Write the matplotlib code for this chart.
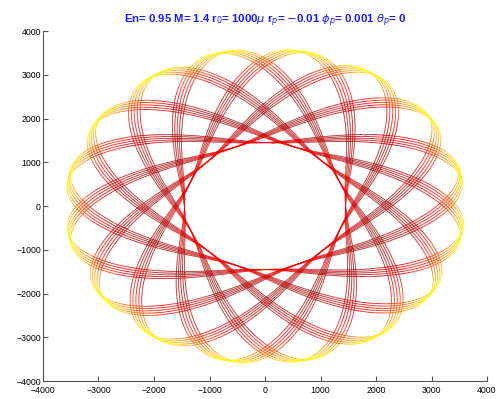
import numpy as np
import matplotlib
matplotlib.use('Agg')
import matplotlib.pyplot as plt
from matplotlib.collections import LineCollection

# orbit
r_apo = 3600.0          # outer lobes
r_peri = 1450.0         # inner hole
n_lobes = 16
n_strands = 5
strand_gap_deg = 1.4    # spacing of strands inside one lobe
first_lobe_deg = 11.25  # a lobe sits at ~ +11 deg
shape_q = 1.4           # radial profile, 1 = kepler-like, 2 = ellipse-like
ticks = [-4000, -3000, -2000, -1000, 0, 1000, 2000, 3000, 4000]
title = r'En= 0.95 M= 1.4 r$_0$= 1000$\mu$ r$_p$= $-$0.01 $\phi_p$= 0.001 $\theta_p$= 0'

# apo to apo step: 180 - 360/n_lobes degrees plus a small drift
step_deg = 180.0 - 360.0 / n_lobes + strand_gap_deg / n_lobes
n_apo = n_lobes * n_strands
kappa = 360.0 / step_deg
th0 = np.radians(first_lobe_deg - (n_strands - 1) / 2 * strand_gap_deg)
th = np.linspace(0, np.radians(n_apo * step_deg), n_apo * 600)
X = kappa * th
A = 0.5 * (r_peri ** -shape_q + r_apo ** -shape_q)
B = 0.5 * (r_peri ** -shape_q - r_apo ** -shape_q)
r = (A - B * np.cos(X)) ** (-1.0 / shape_q)
x = r * np.cos(th + th0)
y = r * np.sin(th + th0)

# colour: yellow at the tips, red near the inner ring, dark red in between
c = np.abs(np.cos(X / 2))
s = np.abs(np.sin(X / 2))
val = 0.2 + 0.17 * np.maximum(c, s) ** 5 + 0.37 * c ** 40

pts = np.column_stack([x, y]).reshape(-1, 1, 2)
segs = np.concatenate([pts[:-1], pts[1:]], axis=1)

plt.rcParams['font.family'] = ['Liberation Sans', 'DejaVu Sans']
fig = plt.figure(figsize=(4.97, 3.99), dpi=100)
ax = fig.add_axes([0.0865, 0.045, 0.8935, 0.877])
lc = LineCollection(segs, cmap='hot', norm=plt.Normalize(0, 1), linewidths=0.6)
lc.set_array(val[:-1])
ax.add_collection(lc)

ax.set_xlim(-4000, 4000)
ax.set_ylim(-4000, 4000)
ax.set_xticks(ticks)
ax.set_yticks(ticks)
ax.set_xticklabels([str(v).replace('-', '\u2212') for v in ticks])
ax.set_yticklabels([str(v).replace('-', '\u2212') for v in ticks])
ax.spines['top'].set_visible(False)
ax.spines['right'].set_visible(False)
for sp in ['left', 'bottom']:
    ax.spines[sp].set_color('#555555')
    ax.spines[sp].set_linewidth(0.8)
ax.tick_params(direction='in', length=3.5, width=0.8, color='#555555',
               labelsize=6.3)
ax.tick_params(axis='x', pad=3.5)
ax.tick_params(axis='y', pad=1.5)
ax.set_title(title, color='#1a1aff', fontsize=8.2, fontweight='bold', pad=6)

fig.savefig('out.png', dpi=100)
